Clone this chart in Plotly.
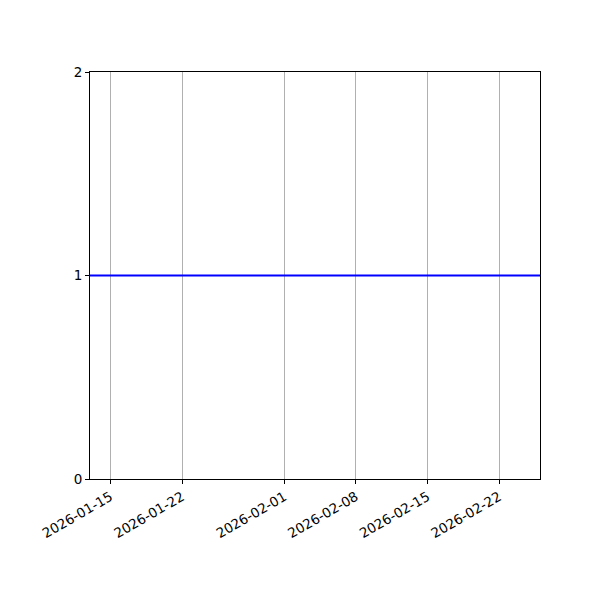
import plotly.graph_objects as go

# series: a flat line at 1 over the date range
dates = ["2026-01-13", "2026-02-26"]
values = [1, 1]

# axis ticks
x_ticks = ["2026-01-15", "2026-01-22", "2026-02-01", "2026-02-08", "2026-02-15", "2026-02-22"]
y_ticks = [0, 1, 2]

fig = go.Figure()
fig.add_trace(go.Scatter(x=dates, y=values, mode="lines",
                         line=dict(color="#0000ff", width=2), showlegend=False))

axis_style = dict(showline=True, linecolor="black", linewidth=1, mirror=True,
                  ticks="outside", ticklen=4, tickcolor="black", tickwidth=1,
                  zeroline=False, tickfont=dict(family="DejaVu Sans", size=13.5, color="black"))

fig.update_xaxes(type="date", range=[dates[0], dates[-1]],
                 tickmode="array", tickvals=x_ticks, ticktext=x_ticks,
                 tickangle=-30, showgrid=True, gridcolor="#b0b0b0", gridwidth=1,
                 **axis_style)
fig.update_yaxes(range=[0, 2], tickmode="array", tickvals=y_ticks,
                 showgrid=False, **axis_style)

# page body adds 8px offset, so margins are shifted to compensate
fig.update_layout(width=600, height=600, plot_bgcolor="white", paper_bgcolor="white",
                  margin=dict(l=82, r=68, t=64, b=129))
fig.write_html("out.html")
